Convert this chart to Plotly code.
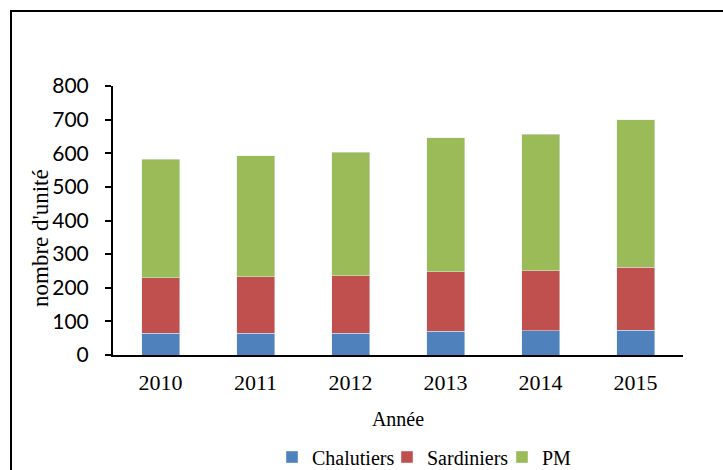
import plotly.graph_objects as go

years = ["2010", "2011", "2012", "2013", "2014", "2015"]
chalutiers = [64, 64, 65, 70, 72, 73]
sardiniers = [166, 168, 171, 177, 179, 188]
pm = [352, 361, 367, 399, 405, 439]

serif = "Liberation Serif, Times New Roman, serif"
sans = "Lato, Liberation Sans, sans-serif"

fig = go.Figure()
fig.add_trace(go.Bar(x=years, y=chalutiers, name="Chalutiers", marker_color="#4F81BD"))
fig.add_trace(go.Bar(x=years, y=sardiniers, name="Sardiniers", marker_color="#C0504D"))
fig.add_trace(go.Bar(x=years, y=pm, name="PM", marker_color="#9BBB59"))

L, R, T, B = 113, 683, 86, 355
W, H = 723, 470
pw, ph = R - L, B - T

fig.update_layout(
    width=W, height=H,
    margin=dict(l=L, r=W - R, t=T, b=H - B, autoexpand=False),
    barmode="stack",
    bargap=0.6,
    plot_bgcolor="white",
    paper_bgcolor="white",
    showlegend=True,
    legend=dict(orientation="h", x=(292 - 20 - L) / pw, xanchor="left", y=(B - 457) / ph, yanchor="middle",
                font=dict(family=serif, size=20, color="black"), traceorder="normal",
                bgcolor="rgba(0,0,0,0)", itemwidth=30, tracegroupgap=0,
                entrywidth=70, entrywidthmode="pixels"),
    xaxis=dict(showline=True, linecolor="black", linewidth=2, ticks="",
               ticklabelstandoff=7,
               tickfont=dict(family=serif, size=22, color="black"),
               title=dict(text="Année", font=dict(family=serif, size=20, color="black"), standoff=18)),
    yaxis=dict(range=[0, 800], dtick=100, showline=True, linecolor="black", linewidth=2,
               ticks="outside", ticklen=6, tickwidth=2, tickcolor="black", showgrid=False,
               zeroline=False, ticklabelstandoff=12,
               tickfont=dict(family=sans, size=21, color="black")),
)

fig.add_annotation(text="nombre d'unité", textangle=-90, showarrow=False,
                   xref="paper", yref="paper", x=(40 - L) / pw, y=(B - 238) / ph,
                   xanchor="center", yanchor="middle",
                   font=dict(family=serif, size=23, color="black"))

# outer frame (extends beyond right and bottom edges)
fig.add_shape(type="rect", xref="paper", yref="paper",
              x0=(11 - L) / pw, x1=(W + 10 - L) / pw,
              y0=(B - 11) / ph, y1=(B - (H + 10)) / ph,
              line=dict(color="black", width=2), fillcolor="rgba(0,0,0,0)", layer="below")

fig.write_html("out.html", config={"displayModeBar": False},
               post_script="document.body.style.margin='0';document.body.style.padding='0';")
